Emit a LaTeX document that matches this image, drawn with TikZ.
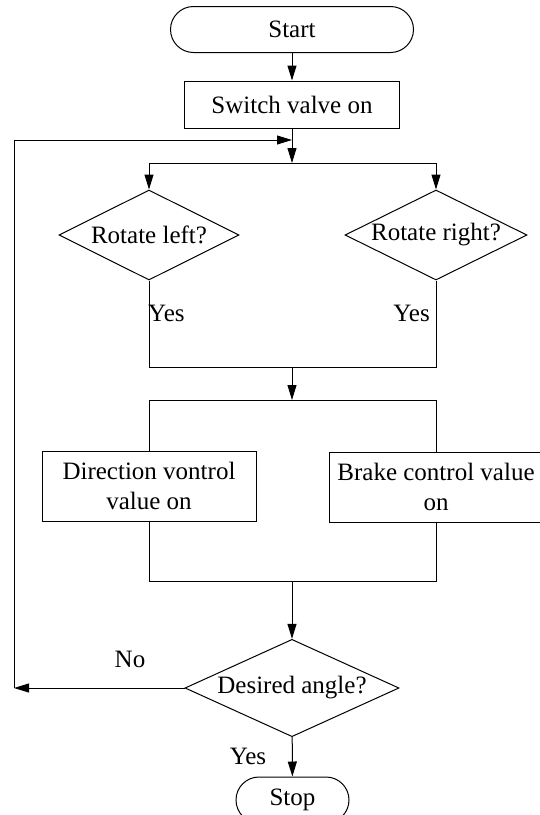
\documentclass[tikz,border=0pt]{standalone}
\usepackage{fontspec}
\setmainfont{Liberation Serif}
\usetikzlibrary{arrows.meta,shapes.geometric}
\begin{document}
\begin{tikzpicture}[x=1pt,y=-1pt,
  every node/.style={font=\fontsize{25pt}{30pt}\selectfont},
  line/.style={line width=1pt,draw=black},
  arr/.style={line width=1pt,-{Triangle[length=15pt,width=9pt]}},
  term/.style={draw,line width=1pt,rectangle,rounded corners=23pt,minimum height=46pt,inner sep=0pt},
  procbox/.style={draw,line width=1pt,rectangle,inner sep=0pt,align=center},
  decide/.style={draw,line width=1pt,diamond,aspect=2,inner sep=0pt,minimum height=90pt},
  lbl/.style={inner sep=0pt}]
\useasboundingbox (0,0) rectangle (540,815);
\node[term,minimum width=243pt] (start) at (292,29.5) {Start};
\node[procbox,minimum width=215pt,minimum height=47pt] (switch) at (292,104.5) {Switch valve on};
\coordinate (merge) at (292,140);
\coordinate (split) at (292,163);
\coordinate (splitL) at (149,163);
\coordinate (splitR) at (436,163);
\node[decide,minimum width=180pt] (left) at (149,235) {Rotate left?};
\node[decide,minimum width=182pt] (right) at (436,235) {Rotate right?};
\coordinate (joinL) at (149,367);
\coordinate (joinR) at (436,367);
\coordinate (join) at (292,367);
\coordinate (fork) at (292,400);
\coordinate (forkL) at (149,400);
\coordinate (forkR) at (436,400);
\node[procbox,minimum width=214pt,minimum height=70pt] (dir) at (149,486) {Direction vontrol\\value on};
\node[procbox,minimum width=214pt,minimum height=70pt] (brake) at (436,487) {Brake control value\\on};
\coordinate (join2L) at (149,581);
\coordinate (join2R) at (436,581);
\coordinate (join2) at (292,581);
\node[decide,minimum width=214pt] (angle) at (292,688) {Desired angle?};
\node[term,minimum width=113pt] (stop) at (292.5,800) {Stop};
\coordinate (loopB) at (14,688);
\coordinate (loopT) at (14,140);
% connectors
\draw[arr] (start) -- (switch);
\draw[arr] (switch) -- (split);
\draw[line] (splitL) -- (splitR);
\draw[arr] (splitL) -- (left);
\draw[arr] (splitR) -- (right);
\draw[line] (left.south) -- (joinL) -- (joinR) -- (right.south);
\draw[arr] (join) -- (fork);
\draw[line] (dir.north) -- (forkL) -- (forkR) -- (brake.north);
\draw[line] (dir.south) -- (join2L) -- (join2R) -- (brake.south);
\draw[arr] (join2) -- (angle);
\draw[arr] (angle.west) -- (loopB);
\draw[arr] (loopB) -- (loopT) -- (merge);
\draw[arr] (angle) -- (stop);
% labels
\node[lbl,anchor=west] (yesL) at (148,313) {Yes};
\node[lbl,anchor=east] (yesR) at (430,313) {Yes};
\node[lbl] (no) at (130,659) {No};
\node[lbl] (yesB) at (248,756) {Yes};
\end{tikzpicture}
\end{document}
